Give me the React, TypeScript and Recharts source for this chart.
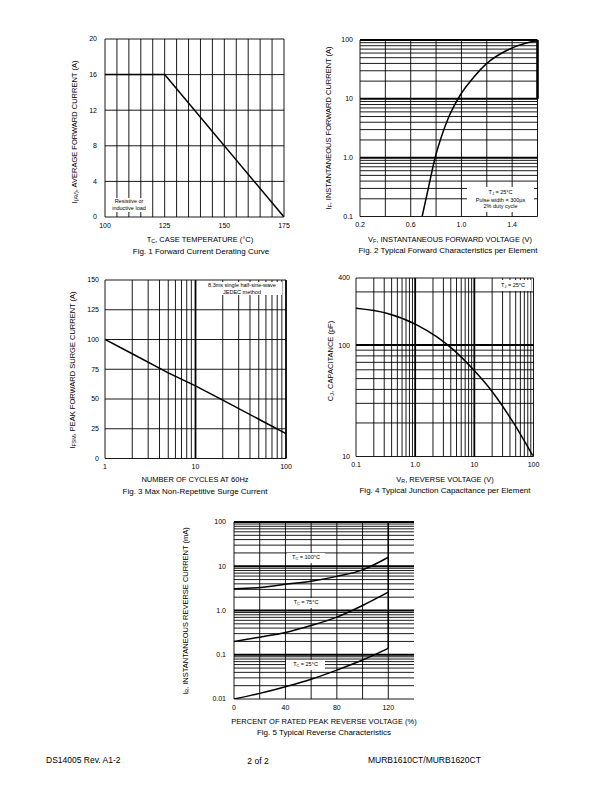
import React from "react";
import { LineChart, Line, XAxis, YAxis, ReferenceLine } from "recharts";

const FONT = '"Liberation Sans", Arial, Helvetica, sans-serif';

// Fig. 1 - forward current derating
const caseTemp = [100, 125, 175];
const avgFwdCurrent = [16, 16, 0];
const caseTempTicks = [100, 125, 150, 175];
const caseTempGrid = [100, 105, 110, 115, 120, 125, 130, 135, 140, 145, 150, 155, 160, 165, 170, 175];
const avgCurrentTicks = [0, 4, 8, 12, 16, 20];

// Fig. 2 - forward characteristics
const fwdVoltage = [0.69, 0.74, 0.79, 0.84, 0.9, 0.99, 1.1, 1.2, 1.36, 1.52, 1.6];
const fwdCurrent = [0.1, 0.31, 0.95, 2.2, 4.9, 11.5, 23.7, 40, 67, 90, 97];
const fwdVoltageTicks = [0.2, 0.6, 1.0, 1.4];
const fwdVoltageLabels = ["0.2", "0.6", "1.0", "1.4"];
const fwdVoltageGrid = [0.2, 0.4, 0.6, 0.8, 1.0, 1.2, 1.4, 1.6];
const fwdCurrentTicks = [0.1, 1, 10, 100];
const fwdCurrentLabels = ["0.1", "1.0", "10", "100"];

// Fig. 3 - surge current
const cycles = [1, 2, 5, 10, 20, 50, 100];
const surgeCurrent = [100, 88, 72, 61, 49, 33, 21];
const cycleTicks = [1, 10, 100];
const surgeTicks = [0, 25, 50, 75, 100, 125, 150];

// Fig. 4 - junction capacitance
const revVoltage = [0.1, 0.33, 1.06, 2.3, 4.4, 9.7, 21, 46, 97];
const junctionCap = [214, 193, 152, 119, 91, 60, 37, 20, 10.2];
const revVoltageTicks = [0.1, 1, 10, 100];
const revVoltageLabels = ["0.1", "1.0", "10", "100"];
const capTicks = [10, 100, 400];
const capGrid = [10, 20, 30, 40, 50, 60, 70, 80, 90, 100, 300, 400];

// Fig. 5 - reverse current
const pctVoltage = [0, 20, 40, 60, 80, 100, 120];
const irTc100 = [3.1, 3.3, 3.9, 4.6, 5.9, 8.3, 16];
const irTc75 = [0.2, 0.25, 0.32, 0.46, 0.71, 1.3, 2.6];
const irTc25 = [0.01, 0.0134, 0.019, 0.028, 0.045, 0.076, 0.14];
const pctTicks = [0, 40, 80, 120];
const pctGrid = [0, 20, 40, 60, 80, 100, 120];
const irTicks = [0.01, 0.1, 1, 10, 100];
const irLabels = ["0.01", "0.1", "1.0", "10", "100"];

// 1..9 per decade gridlines
function logGrid(lo: number, hi: number) {
  const out: number[] = [];
  for (let d = lo; d < hi * 0.99; d *= 10) {
    for (let k = 1; k < 10; k++) out.push(+(d * k).toPrecision(3));
  }
  out.push(hi);
  return out;
}

const labelFor = (ticks: number[], labels: string[]) => (v: number) => {
  const i = ticks.findIndex((t) => Math.abs(t - v) < t * 1e-6 + 1e-12);
  return i >= 0 ? labels[i] : String(v);
};

const YW = 40;
const MT = 6;
const MR = 6;
const XH = 20;
const tickStyle = { fontSize: 7, fill: "#000", fontFamily: FONT };

type Box = { left: number; top: number; w: number; h: number };

function Panel({
  box,
  data,
  xAxis,
  yAxis,
  gridX,
  gridY,
  thickX = [],
  thickY = [],
  yGap = 6,
  xGap = 6,
  children,
}: any) {
  const b: Box = box;
  return (
    <div style={{ position: "absolute", left: b.left - YW, top: b.top - MT }}>
      <LineChart
        width={YW + b.w + MR}
        height={MT + b.h + XH}
        data={data}
        margin={{ top: MT, right: MR, bottom: 0, left: 0 }}
      >
        <XAxis
          type="number"
          dataKey="x"
          height={XH}
          axisLine={false}
          tickLine={false}
          tickSize={0}
          tickMargin={xGap}
          interval={0}
          allowDataOverflow
          tick={tickStyle}
          {...xAxis}
        />
        <YAxis
          type="number"
          width={YW}
          axisLine={false}
          tickLine={false}
          tickSize={0}
          tickMargin={yGap}
          interval={0}
          allowDataOverflow
          tick={tickStyle}
          {...yAxis}
        />
        {gridX.map((v: number) => (
          <ReferenceLine
            key={"gx" + v}
            x={v}
            stroke="#000"
            strokeWidth={thickX.includes(v) ? 1.8 : 0.9}
            ifOverflow="visible"
          />
        ))}
        {gridY.map((v: number) => (
          <ReferenceLine
            key={"gy" + v}
            y={v}
            stroke="#000"
            strokeWidth={thickY.includes(v) ? 2 : 0.9}
            ifOverflow="visible"
          />
        ))}
        {children}
      </LineChart>
    </div>
  );
}

const Sub = ({ children }: any) => (
  <span style={{ fontSize: "0.7em", verticalAlign: "-0.3em" }}>{children}</span>
);

function Txt({ x, y, size = 7.5, rotate = false, children }: any) {
  return (
    <div
      style={{
        position: "absolute",
        left: x,
        top: y,
        transform: `translate(-50%, -50%)${rotate ? " rotate(-90deg)" : ""}`,
        whiteSpace: "nowrap",
        fontSize: size,
        lineHeight: 1,
        color: "#000",
      }}
    >
      {children}
    </div>
  );
}

function Note({ left, top, width, height, lines }: any) {
  return (
    <div
      style={{
        position: "absolute",
        left,
        top,
        width,
        height,
        background: "#fff",
        fontSize: 5.5,
        lineHeight: 1.25,
        textAlign: "center",
        display: "flex",
        flexDirection: "column",
        justifyContent: "center",
      }}
    >
      {lines.map((l: any, i: number) => (
        <div key={i}>{l}</div>
      ))}
    </div>
  );
}

export default function App() {
  const fig1Data = caseTemp.map((x, i) => ({ x, y: avgFwdCurrent[i] }));
  const fig2Data = fwdVoltage.map((x, i) => ({ x, y: fwdCurrent[i] }));
  const fig3Data = cycles.map((x, i) => ({ x, y: surgeCurrent[i] }));
  const fig4Data = revVoltage.map((x, i) => ({ x, y: junctionCap[i] }));
  const fig5Data = pctVoltage.map((x, i) => ({
    x,
    t100: irTc100[i],
    t75: irTc75[i],
    t25: irTc25[i],
  }));

  const curve = { stroke: "#000", strokeWidth: 1.5, dot: false, isAnimationActive: false };

  return (
    <div
      style={{
        position: "absolute",
        left: 0,
        top: 0,
        width: 612,
        height: 792,
        background: "#fff",
        fontFamily: FONT,
        color: "#000",
      }}
    >
      {/* Fig. 1 */}
      <Panel
        box={{ left: 105, top: 38.5, w: 179, h: 178 }}
        data={fig1Data}
        xAxis={{ domain: [100, 175], ticks: caseTempTicks }}
        yAxis={{ domain: [0, 20], ticks: avgCurrentTicks }}
        gridX={caseTempGrid}
        gridY={avgCurrentTicks}
        yGap={8}
      >
        <Line type="linear" dataKey="y" {...curve} />
      </Panel>

      {/* Fig. 2 */}
      <Panel
        box={{ left: 359.5, top: 39.5, w: 177.5, h: 176.5 }}
        data={fig2Data}
        xAxis={{
          domain: [0.2, 1.6],
          ticks: fwdVoltageTicks,
          tickFormatter: labelFor(fwdVoltageTicks, fwdVoltageLabels),
        }}
        yAxis={{
          scale: "log",
          domain: [0.1, 100],
          ticks: fwdCurrentTicks,
          tickFormatter: labelFor(fwdCurrentTicks, fwdCurrentLabels),
        }}
        gridX={fwdVoltageGrid}
        gridY={logGrid(0.1, 100)}
        thickY={[1, 10, 100]}
        yGap={7}
      >
        <ReferenceLine
          segment={[
            { x: 1.6, y: 10 },
            { x: 1.6, y: 100 },
          ]}
          stroke="#000"
          strokeWidth={2.6}
          ifOverflow="visible"
        />
        <Line type="monotone" dataKey="y" {...curve} />
      </Panel>

      {/* Fig. 3 */}
      <Panel
        box={{ left: 105, top: 280, w: 181, h: 178.5 }}
        data={fig3Data}
        xAxis={{ scale: "log", domain: [1, 100], ticks: cycleTicks }}
        yAxis={{ domain: [0, 150], ticks: surgeTicks }}
        gridX={logGrid(1, 100)}
        gridY={surgeTicks}
        thickX={[10, 100]}
        yGap={6}
      >
        <Line type="linear" dataKey="y" {...curve} />
      </Panel>

      {/* Fig. 4 */}
      <Panel
        box={{ left: 356, top: 278, w: 177.5, h: 178.5 }}
        data={fig4Data}
        xAxis={{
          scale: "log",
          domain: [0.1, 100],
          ticks: revVoltageTicks,
          tickFormatter: labelFor(revVoltageTicks, revVoltageLabels),
        }}
        yAxis={{ scale: "log", domain: [10, 400], ticks: capTicks }}
        gridX={logGrid(0.1, 100)}
        gridY={capGrid}
        thickX={[1, 10]}
        thickY={[100]}
        yGap={6}
      >
        <Line type="monotone" dataKey="y" {...curve} />
      </Panel>

      {/* Fig. 5 */}
      <Panel
        box={{ left: 234, top: 521.5, w: 180, h: 177 }}
        data={fig5Data}
        xAxis={{ domain: [0, 140], ticks: pctTicks }}
        yAxis={{
          scale: "log",
          domain: [0.01, 100],
          ticks: irTicks,
          tickFormatter: labelFor(irTicks, irLabels),
        }}
        gridX={pctGrid}
        gridY={logGrid(0.01, 100)}
        thickY={[0.1, 1, 10, 100]}
        yGap={8}
      >
        <ReferenceLine
          segment={[
            { x: 120, y: irTc25[irTc25.length - 1] },
            { x: 120, y: 100 },
          ]}
          stroke="#000"
          strokeWidth={1.5}
          ifOverflow="visible"
        />
        <Line type="monotone" dataKey="t100" {...curve} />
        <Line type="monotone" dataKey="t75" {...curve} />
        <Line type="monotone" dataKey="t25" {...curve} />
      </Panel>

      {/* annotations */}
      <Note left={110} top={198} width={38} height={14} lines={["Resistive or", "inductive load"]} />
      <Note
        left={467}
        top={187}
        width={67}
        height={25}
        lines={[
          <>
            T<Sub>J</Sub> = 25°C
          </>,
          "Pulse width = 300µs",
          "2% duty cycle",
        ]}
      />
      <Note
        left={202}
        top={282}
        width={80}
        height={13}
        lines={["8.3ms single half-sine-wave", "JEDEC method"]}
      />
      <Note
        left={495}
        top={280}
        width={36}
        height={11}
        lines={[
          <>
            T<Sub>J</Sub> = 25°C
          </>,
        ]}
      />
      <Note
        left={287}
        top={553}
        width={38}
        height={10}
        lines={[
          <>
            T<Sub>C</Sub> = 100°C
          </>,
        ]}
      />
      <Note
        left={287}
        top={598}
        width={38}
        height={10}
        lines={[
          <>
            T<Sub>C</Sub> = 75°C
          </>,
        ]}
      />
      <Note
        left={286}
        top={660}
        width={39}
        height={10}
        lines={[
          <>
            T<Sub>C</Sub> = 25°C
          </>,
        ]}
      />

      {/* axis labels and captions */}
      <Txt x={75} y={132} rotate>
        I<Sub>(AV)</Sub>, AVERAGE FORWARD CURRENT (A)
      </Txt>
      <Txt x={200} y={240}>
        T<Sub>C</Sub>, CASE TEMPERATURE (°C)
      </Txt>
      <Txt x={201} y={251.5} size={8}>Fig. 1  Forward Current Derating Curve</Txt>

      <Txt x={329} y={128} rotate>
        I<Sub>F</Sub>, INSTANTANEOUS FORWARD CURRENT (A)
      </Txt>
      <Txt x={450} y={240}>
        V<Sub>F</Sub>, INSTANTANEOUS FORWARD VOLTAGE (V)
      </Txt>
      <Txt x={448} y={251} size={8}>Fig. 2  Typical Forward Characteristics per Element</Txt>

      <Txt x={73} y={370} rotate>
        I<Sub>FSM</Sub>, PEAK FORWARD SURGE CURRENT (A)
      </Txt>
      <Txt x={195} y={480}>NUMBER OF CYCLES AT 60Hz</Txt>
      <Txt x={195} y={491.5} size={8}>Fig. 3  Max Non-Repetitive Surge Current</Txt>

      <Txt x={331} y={361} rotate>
        C<Sub>J</Sub>, CAPACITANCE (pF)
      </Txt>
      <Txt x={445} y={479.5}>
        V<Sub>R</Sub>, REVERSE VOLTAGE (V)
      </Txt>
      <Txt x={445} y={491} size={8}>Fig. 4  Typical Junction Capacitance per Element</Txt>

      <Txt x={186} y={611} rotate>
        I<Sub>R</Sub>, INSTANTANEOUS REVERSE CURRENT (mA)
      </Txt>
      <Txt x={324} y={722}>PERCENT OF RATED PEAK REVERSE VOLTAGE (%)</Txt>
      <Txt x={324} y={733} size={8}>Fig. 5  Typical Reverse Characteristics</Txt>

      {/* footer */}
      <div style={{ position: "absolute", left: 46, top: 755, fontSize: 8.5 }}>DS14005 Rev. A1-2</div>
      <Txt x={258} y={760.5} size={8.5}>
        2 of 2
      </Txt>
      <div style={{ position: "absolute", left: 368, top: 755, fontSize: 8.5 }}>MURB1610CT/MURB1620CT</div>
    </div>
  );
}
